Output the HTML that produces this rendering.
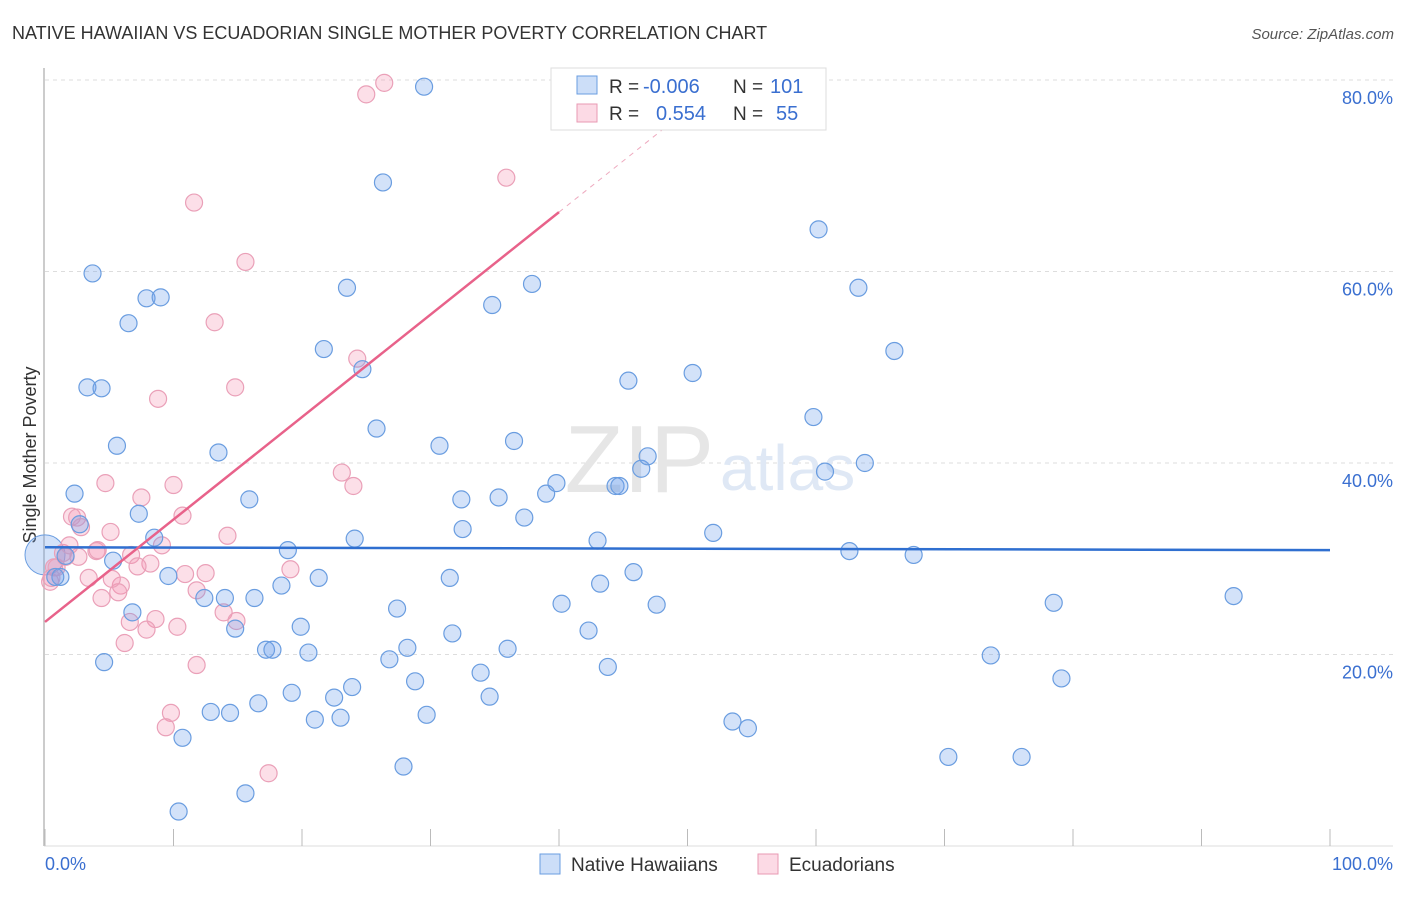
<!DOCTYPE html>
<html><head><meta charset="utf-8"><style>
body{margin:0;background:#fff;font-family:"Liberation Sans",sans-serif;}
svg text{font-family:"Liberation Sans",sans-serif;}
</style></head><body>
<svg id="chart" width="1406" height="892" xmlns="http://www.w3.org/2000/svg">
<text x="12" y="39" font-size="18" fill="#333">NATIVE HAWAIIAN VS ECUADORIAN SINGLE MOTHER POVERTY CORRELATION CHART</text>
<text x="1394" y="39" font-size="15" fill="#555" text-anchor="end" font-style="italic">Source: ZipAtlas.com</text>
<text x="36" y="455" font-size="18" fill="#333" text-anchor="middle" transform="rotate(-90 36 455)">Single Mother Poverty</text>
<g id="grid"></g>
<text x="714" y="492" font-size="96" fill="#e6e6e6" font-family="Liberation Serif" text-anchor="end">ZIP</text>
<text x="720" y="490" font-size="64" fill="#dfe8f5">atlas</text>
<g id="marks"></g>
<g>
<rect x="551" y="68" width="275" height="62" fill="#fff" stroke="#ddd"/>
<rect x="577" y="76" width="20" height="18" fill="rgba(110,160,235,0.35)" stroke="#6a9de0"/>
<rect x="577" y="104" width="20" height="18" fill="rgba(245,150,180,0.35)" stroke="#e89ab3"/>
<text x="609" y="93" font-size="19" fill="#333">R = </text><text x="643" y="93" font-size="20" fill="#3a6fd0">-0.006</text>
<text x="733" y="93" font-size="19" fill="#333">N = </text><text x="770" y="93" font-size="20" fill="#3a6fd0">101</text>
<text x="609" y="120" font-size="19" fill="#333">R = </text><text x="656" y="120" font-size="20" fill="#3a6fd0">0.554</text>
<text x="733" y="120" font-size="19" fill="#333">N = </text><text x="776" y="120" font-size="20" fill="#3a6fd0">55</text>
</g>
<g>
<rect x="540" y="854" width="20" height="20" fill="rgba(110,160,235,0.35)" stroke="#6a9de0"/>
<text x="571" y="871" font-size="19" fill="#333">Native Hawaiians</text>
<rect x="758" y="854" width="20" height="20" fill="rgba(245,150,180,0.35)" stroke="#e89ab3"/>
<text x="789" y="871" font-size="19" fill="#333">Ecuadorians</text>
</g>
</svg>
<script>
const blueX=[3.7,7.9,9.0,6.5,3.3,4.4,5.6,2.3,2.7,7.3,8.5,13.5,15.9,1.6,5.3,1.2,0.8,9.6,6.8,4.6,10.7,10.4,12.4,14.0,14.8,16.3,15.6,12.9,14.4,16.6,17.2,17.7,18.4,18.9,19.9,20.5,19.2,21.0,21.3,22.5,23.0,23.9,21.7,23.5,24.7,25.8,26.3,24.1,26.8,27.4,28.2,28.8,29.7,27.9,29.5,30.7,31.5,31.7,32.4,32.5,33.9,34.6,35.3,36.0,36.5,37.3,37.9,34.8,39.0,39.8,40.2,43.0,43.2,42.3,43.8,44.4,44.7,45.4,45.8,46.4,46.9,47.6,50.4,52.0,53.5,54.7,59.8,60.2,60.7,62.6,63.3,63.8,66.1,67.6,70.3,73.6,76.0,78.5,79.1,92.5];
const blueY=[59.8,57.2,57.3,54.6,47.9,47.8,41.8,36.8,33.6,34.7,32.2,41.1,36.2,30.3,29.8,28.1,28.1,28.2,24.4,19.2,11.3,3.6,25.9,25.9,22.7,25.9,5.5,14.0,13.9,14.9,20.5,20.5,27.2,30.9,22.9,20.2,16.0,13.2,28.0,15.5,13.4,16.6,51.9,58.3,49.8,43.6,69.3,32.1,19.5,24.8,20.7,17.2,13.7,8.3,79.3,41.8,28.0,22.2,36.2,33.1,18.1,15.6,36.4,20.6,42.3,34.3,58.7,56.5,36.8,37.9,25.3,31.9,27.4,22.5,18.7,37.6,37.6,48.6,28.6,39.4,40.7,25.2,49.4,32.7,13.0,12.3,44.8,64.4,39.1,30.8,58.3,40.0,51.7,30.4,9.3,19.9,9.3,25.4,17.5,26.1];
const pinkX=[26.4,25.0,35.9,11.6,15.6,13.2,14.8,8.8,24.3,23.1,24.0,10.0,4.7,7.5,10.7,2.1,2.5,2.8,5.1,14.2,9.1,4.0,1.6,2.6,6.7,8.2,7.2,12.5,10.9,3.4,0.4,0.7,5.9,5.7,4.4,11.8,19.1,13.9,14.9,6.6,8.6,7.9,10.3,6.2,11.8,9.8,9.4,17.4,1.4,0.9,5.2,4.1,1.9,0.5];
const pinkY=[79.7,78.5,69.8,67.2,61.0,54.7,47.9,46.7,50.9,39.0,37.6,37.7,37.9,36.4,34.5,34.4,34.3,33.3,32.8,32.4,31.4,30.8,30.2,30.2,30.4,29.5,29.2,28.5,28.4,28.0,27.6,29.1,27.2,26.5,25.9,26.7,28.9,24.4,23.5,23.4,23.7,22.6,22.9,21.2,18.9,13.9,12.4,7.6,30.6,29.1,27.9,30.9,31.4,28.0];
const blueTrend=[31.2,30.9];      // y at x=0, x=100
const pinkTrend=[23.4,1.07];      // intercept, slope
const yTicks=[20,40,60,80];
const xTicks=[0,10,20,30,40,50,60,70,80,90,100];

const X0=45,X1=1330,Y0=846,PX=(X1-X0)/100,PY=9.575;
const sx=v=>X0+v*PX, sy=v=>Y0-v*PY;
const NS="http://www.w3.org/2000/svg";
const grid=document.getElementById('grid'), marks=document.getElementById('marks');
function mk(tag,attrs,parent){const e=document.createElementNS(NS,tag);for(const k in attrs)e.setAttribute(k,attrs[k]);parent.appendChild(e);return e;}

let ax=mk('line',{x1:44,y1:68,x2:44,y2:846,stroke:'#bbb','stroke-width':1.5},grid);


let bx=mk('line',{x1:44,y1:846,x2:1393,y2:846,stroke:'#ddd','stroke-width':1},grid);


yTicks.forEach(t=>{
  const g=mk('line',{x1:45,y1:sy(t),x2:1393,y2:sy(t),stroke:'#ddd','stroke-dasharray':'4,4'},grid);
  
  
  const l=mk('text',{x:1393,y:sy(t)+24,'font-size':18,fill:'#3a6fd0','text-anchor':'end'},grid);
  l.textContent=t.toFixed(1)+'%';
  
  
});
xTicks.forEach(t=>{
  const k=mk('line',{x1:sx(t),y1:829,x2:sx(t),y2:846,stroke:'#bbb'},grid);
  
  
});
let xl0=mk('text',{x:45,y:870,'font-size':18,fill:'#3a6fd0'},grid);xl0.textContent='0.0%';


let xl1=mk('text',{x:1393,y:870,'font-size':18,fill:'#3a6fd0','text-anchor':'end'},grid);xl1.textContent='100.0%';



let big=mk('circle',{cx:sx(0),cy:sy(30.4),r:20,fill:'rgba(110,160,235,0.3)',stroke:'#6a9de0'},marks);


pinkX.forEach((x,i)=>{
  const c=mk('circle',{cx:sx(x),cy:sy(pinkY[i]),r:8.5,fill:'rgba(245,150,180,0.3)',stroke:'#eaa0b8','stroke-width':1.2},marks);
  
  
});
blueX.forEach((x,i)=>{
  const c=mk('circle',{cx:sx(x),cy:sy(blueY[i]),r:8.5,fill:'rgba(110,160,235,0.3)',stroke:'#6a9de0','stroke-width':1.2},marks);
  
  
});
let bt=mk('line',{x1:sx(0),y1:sy(blueTrend[0]),x2:sx(100),y2:sy(blueTrend[1]),stroke:'#2f6fd0','stroke-width':2.5},marks);


let pt=mk('line',{x1:sx(0),y1:sy(pinkTrend[0]),x2:sx(40),y2:sy(pinkTrend[0]+pinkTrend[1]*40),stroke:'#e8628a','stroke-width':2.5},marks);


let pd=mk('line',{x1:sx(40),y1:sy(pinkTrend[0]+pinkTrend[1]*40),x2:sx(48.5),y2:sy(pinkTrend[0]+pinkTrend[1]*48.5),stroke:'#eeaabf','stroke-width':1,'stroke-dasharray':'5,5'},marks);


</script>
</body></html>
